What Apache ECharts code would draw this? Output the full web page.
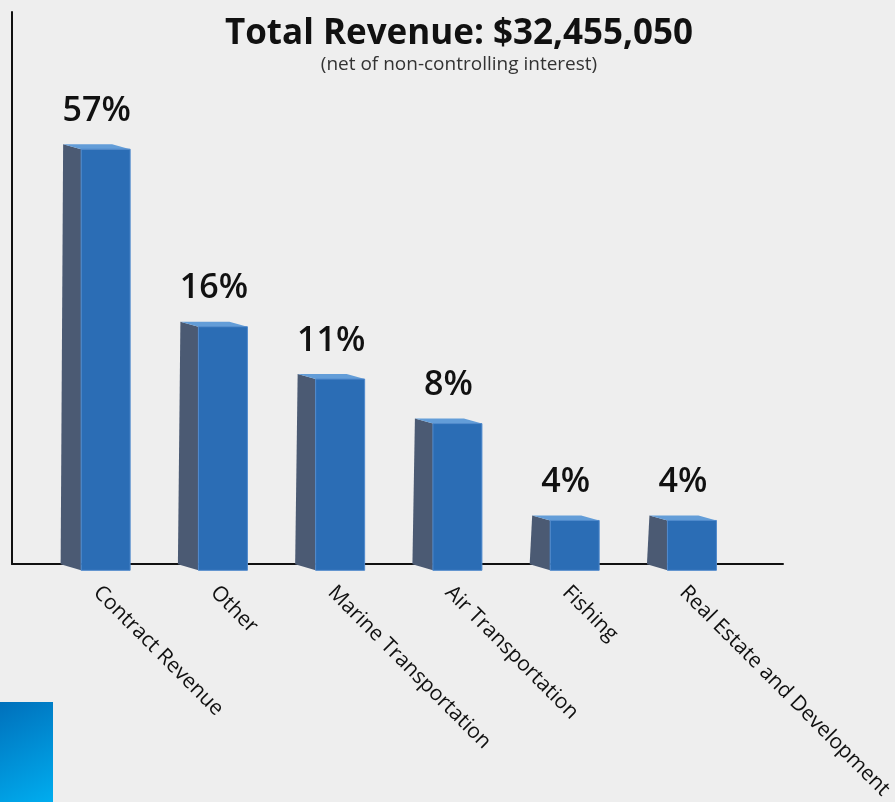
<!DOCTYPE html>
<html>
<head>
<meta charset="utf-8">
<title>Total Revenue</title>
<script src="https://cdn.jsdelivr.net/npm/echarts@6/dist/echarts.min.js"></script>
<style>
  html, body { margin: 0; padding: 0; background: #eeeeee; overflow: hidden; }
  #chart { width: 895px; height: 802px; }
</style>
</head>
<body>
<div id="chart"></div>
<script>
// Revenue split by segment (percent of total)
const categories = [
  'Contract Revenue',
  'Other',
  'Marine Transportation',
  'Air Transportation',
  'Fishing',
  'Real Estate and Development'
];
const shares = [57, 16, 11, 8, 4, 4];

const titleText = 'Total Revenue: $32,455,050';
const subtitleText = '(net of non-controlling interest)';

const FONT = '"Open Sans", "Noto Sans", sans-serif';
const FRONT = '#2b6db5';
const SIDE = '#4b5a73';
const TOP = '#639dd8';

const chart = echarts.init(document.getElementById('chart'), null, { renderer: 'canvas' });

// Draws one box-shaped bar: a dark left side, a light top and the front face,
// plus the percentage above it.
function renderBox(params, api) {
  const idx = api.value(0);
  const val = api.value(1);
  const pt = api.coord([idx, val]);
  const cs = params.coordSys;
  const bottom = cs.y + cs.height;
  const band = api.size([1, 0])[0];
  const fw = 49;
  const depth = 18;
  const rise = 5;
  const cx = pt[0];
  const top = pt[1];
  const x0 = cx - fw / 2 + depth / 2;
  const x1 = x0 + fw;
  return {
    type: 'group',
    children: [
      {
        type: 'polygon',
        shape: { points: [[x0 - depth, top - rise], [x0, top], [x0, bottom], [x0 - depth - 2.5, bottom - 6]] },
        style: { fill: SIDE }
      },
      {
        type: 'polygon',
        shape: { points: [[x0 - depth, top - rise], [x1 - depth, top - rise], [x1, top], [x0, top]] },
        style: { fill: TOP }
      },
      {
        type: 'rect',
        shape: { x: x0, y: top, width: fw, height: bottom - top },
        style: { fill: FRONT, stroke: '#4f89cc', lineWidth: 1 }
      },
      {
        type: 'text',
        x: cx,
        y: top - 21,
        style: {
          text: api.value(1) + '%',
          fill: '#111',
          font: '600 34px ' + FONT,
          align: 'center',
          verticalAlign: 'bottom'
        }
      }
    ]
  };
}

const option = {
  backgroundColor: '#eeeeee',
  animation: false,
  title: {
    text: titleText,
    subtext: subtitleText,
    left: 454,
    top: 12,
    textAlign: 'center',
    itemGap: 3,
    textStyle: { fontFamily: FONT, fontWeight: 'bold', fontSize: 35, color: '#111' },
    subtextStyle: { fontFamily: FONT, fontSize: 19, color: '#333' }
  },
  graphic: [
    {
      type: 'rect',
      left: 0,
      bottom: 0,
      shape: { width: 53, height: 100 },
      style: {
        fill: new echarts.graphic.LinearGradient(0, 0, 1, 1, [
          { offset: 0, color: '#0070bb' },
          { offset: 1, color: '#00adef' }
        ])
      }
    }
  ],
  grid: [
    // plotting area for the boxes
    { left: 38, right: 146, top: 142, bottom: 231 },
    // frame carrying the two axis lines
    { left: 12, right: 112, top: 12, bottom: 238 }
  ],
  xAxis: [
    {
      type: 'category',
      gridIndex: 0,
      data: categories,
      axisLine: { show: false },
      axisTick: { show: false },
      axisLabel: {
        rotate: -45,
        margin: 19,
        interval: 0,
        fontFamily: FONT,
        fontSize: 21,
        color: '#111'
      }
    },
    {
      type: 'value',
      gridIndex: 1,
      min: 0,
      max: 1,
      axisLine: { show: true, onZero: false, lineStyle: { color: '#111', width: 2 } },
      axisTick: { show: false },
      axisLabel: { show: false },
      splitLine: { show: false }
    }
  ],
  yAxis: [
    {
      type: 'log',
      gridIndex: 0,
      min: 2.8,
      max: 60,
      show: false,
      splitLine: { show: false }
    },
    {
      type: 'value',
      gridIndex: 1,
      min: 0,
      max: 1,
      axisLine: { show: true, onZero: false, lineStyle: { color: '#111', width: 2 } },
      axisTick: { show: false },
      axisLabel: { show: false },
      splitLine: { show: false }
    }
  ],
  series: [
    {
      type: 'custom',
      xAxisIndex: 0,
      yAxisIndex: 0,
      z: 5,
      clip: false,
      renderItem: renderBox,
      encode: { x: 0, y: 1 },
      data: categories.map((c, i) => [i, shares[i]])
    }
  ]
};

chart.setOption(option);
</script>
</body>
</html>
